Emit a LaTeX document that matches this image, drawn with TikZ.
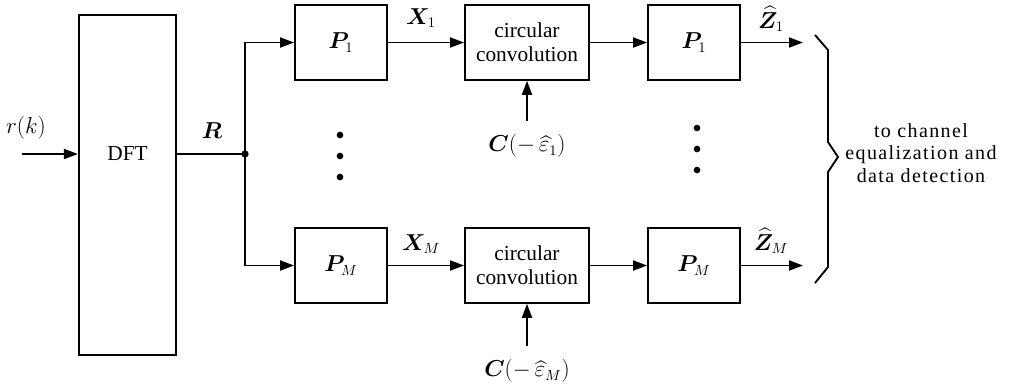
\documentclass[tikz,border=0pt]{standalone}
\usepackage{amsmath,amssymb,bm}
\usepackage{fontspec}
\setmainfont{Liberation Serif}
\usetikzlibrary{arrows.meta}
\usetikzlibrary{positioning}

\begin{document}
\begin{tikzpicture}[
  x=0.75pt,y=-0.75pt,
  every node/.style={font=\fontsize{16}{18}\selectfont},
  blk/.style={draw,line width=1.4pt,minimum width=69pt,minimum height=56pt,inner sep=0pt},
  ccblk/.style={blk,minimum width=93pt,align=center},
  sig/.style={line width=1.4pt,-{Triangle[length=10.5pt,width=7.5pt]}},
  lbl/.style={inner sep=1pt},
  dotmark/.style={circle,fill,inner sep=0pt,minimum size=5pt}
]
\useasboundingbox (0,0) rectangle (1010,390);
% blocks
\node[blk,minimum width=73pt,minimum height=255pt] (dft) at (127.5,185) {};
\node at (127.5,154) {DFT};
\node[blk] (pa1) at (341,42.5) {$\bm{P}_1$};
\node[ccblk] (cc1) at (527,42.5) {circular\\convolution};
\node[blk] (pb1) at (694,42.5) {$\bm{P}_1$};
\node[blk] (paM) at (341,265.5) {$\bm{P}_M$};
\node[ccblk] (ccM) at (527,265.5) {circular\\convolution};
\node[blk] (pbM) at (694,265.5) {$\bm{P}_M$};

% input and split
\coordinate (in) at (22,154);
\coordinate (jn) at (245,154);
\node[lbl] (rk) at (26,128) {$r(k)$};
\draw[sig] (in) -- (dft.west |- in);
\draw[line width=1.4pt] (dft.east |- jn) -- (jn);
\node[dotmark,minimum size=5.5pt] (jdot) at (jn) {};
\node[lbl] (rl) at (212,131) {$\bm{R}$};
\draw[sig] (jn) |- (pa1.west);
\draw[sig] (jn) |- (paM.west);

% branch 1
\draw[sig] (pa1) -- (cc1);
\node[lbl] (x1) at (421,18) {$\bm{X}_1$};
\draw[sig] (cc1) -- (pb1);
\coordinate (z1) at (803,42.5);
\draw[sig] (pb1) -- (z1);
\node[lbl] (zl1) at (771,19) {$\widehat{\bm{Z}}_1$};
\coordinate (c1) at (527,121);
\draw[sig] (c1) -- (cc1.south);
\node[lbl] (cl1) at (527,146) {$\bm{C}(-\,\widehat{\varepsilon}_1)$};

% branch M
\draw[sig] (paM) -- (ccM);
\node[lbl] (xM) at (421,244) {$\bm{X}_M$};
\draw[sig] (ccM) -- (pbM);
\coordinate (zM) at (803,265.5);
\draw[sig] (pbM) -- (zM);
\node[lbl] (zlM) at (771,241) {$\widehat{\bm{Z}}_M$};
\coordinate (cM) at (527,346);
\draw[sig] (cM) -- (ccM.south);
\node[lbl] (clM) at (527,371) {$\bm{C}(-\,\widehat{\varepsilon}_M)$};

% dots
\foreach \y in {135,156,177} \node[dotmark] at (340,\y) {};
\foreach \y in {128,149,170} \node[dotmark] at (697,\y) {};

% brace
\draw[line width=1.4pt] (815,35) -- (828,50) -- (828,142) -- (838,157)
  -- (828,172) -- (828,267) -- (815,283);
\node[align=center,font=\fontsize{15}{17}\selectfont\addfontfeatures{LetterSpace=7}] (dest) at (921,153)
  {to channel\\equalization and\\data detection};
\end{tikzpicture}
\end{document}
